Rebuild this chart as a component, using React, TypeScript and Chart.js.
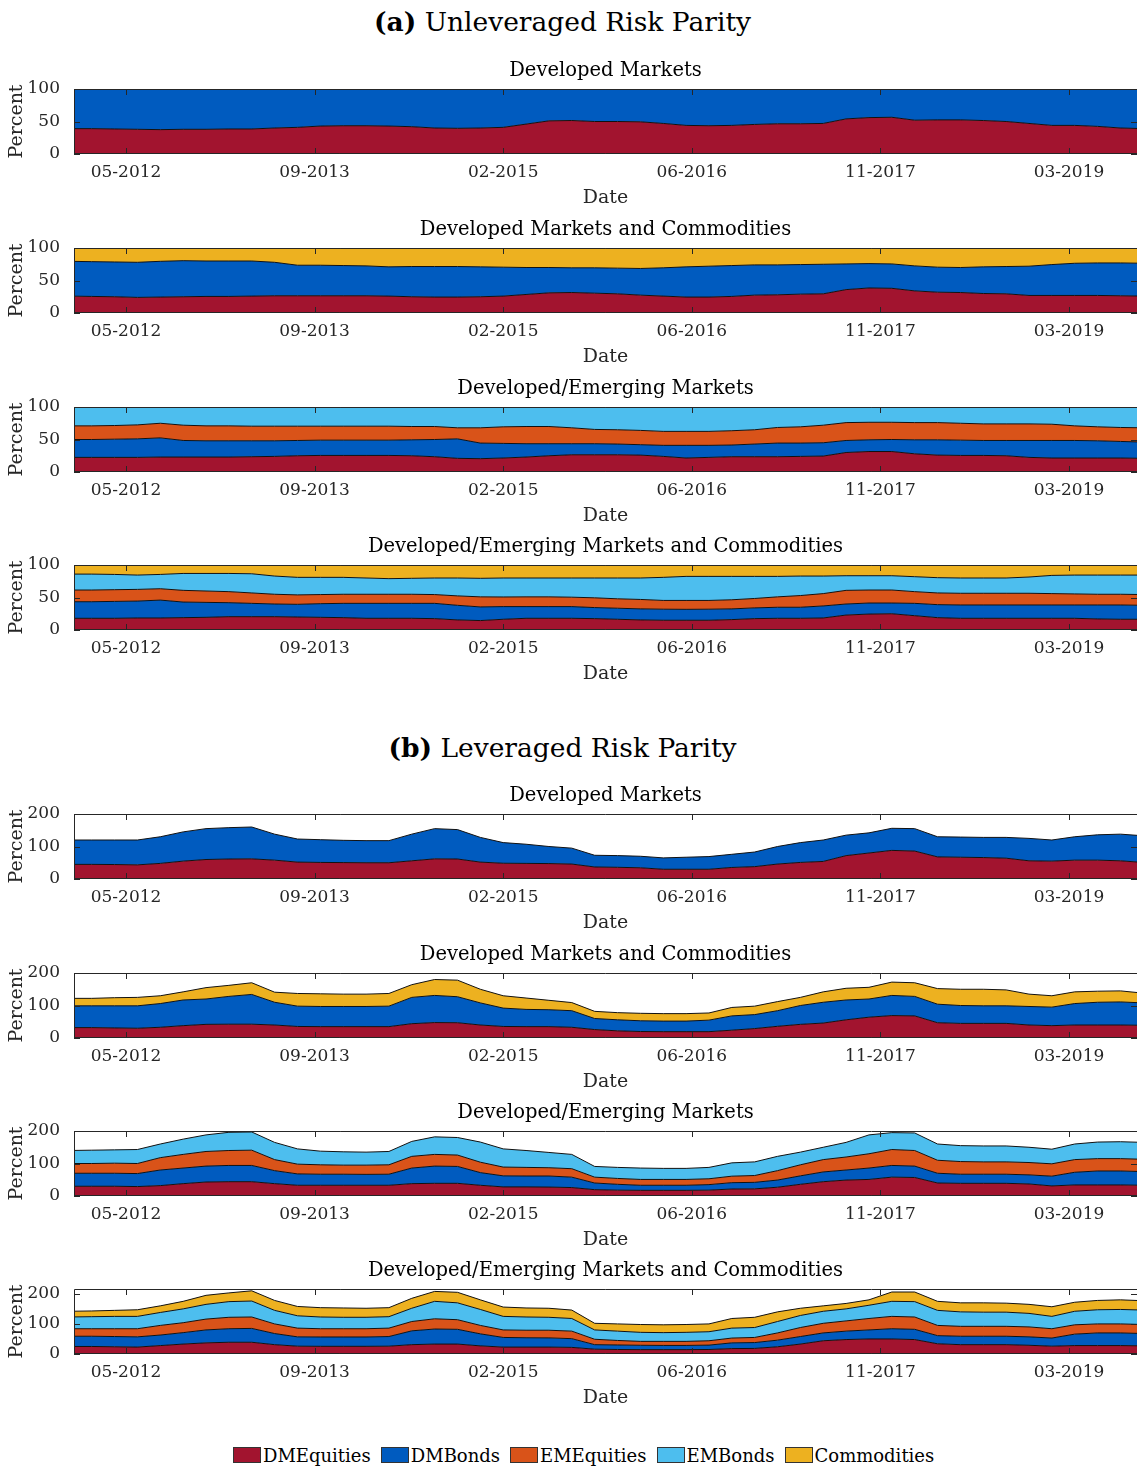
import React, { useEffect, useRef } from 'react';
import { Chart, registerables } from 'chart.js';

Chart.register(...registerables);

const FONT = "'DejaVu Serif', serif";

// Sample dates (MM-YYYY), every two months
const DATES = [
  '12-2011', '02-2012', '04-2012', '06-2012', '08-2012', '10-2012', '12-2012', '02-2013',
  '04-2013', '06-2013', '08-2013', '10-2013', '12-2013', '02-2014', '04-2014', '06-2014',
  '08-2014', '10-2014', '12-2014', '02-2015', '04-2015', '06-2015', '08-2015', '10-2015',
  '12-2015', '02-2016', '04-2016', '06-2016', '08-2016', '10-2016', '12-2016', '02-2017',
  '04-2017', '06-2017', '08-2017', '10-2017', '12-2017', '02-2018', '04-2018', '06-2018',
  '08-2018', '10-2018', '12-2018', '02-2019', '04-2019', '06-2019', '08-2019', '10-2019',
];

const X_TICK_LABELS = ['05-2012', '09-2013', '02-2015', '06-2016', '11-2017', '03-2019'];
const X_TICK_VALUES = [4, 20.5, 37, 53.5, 70, 86.5];
const X_MIN = -0.55;
const X_MAX = 92.45;

const Y_TICKS_UNLEV = [0, 50, 100];
const Y_TICKS_LEV = [0, 100, 200];

const ASSETS = ['DMEquities', 'DMBonds', 'EMEquities', 'EMBonds', 'Commodities'];
const COLORS: Record<string, string> = {
  DMEquities: '#A2142F',
  DMBonds: '#005BBF',
  EMEquities: '#D95319',
  EMBonds: '#4DBEEE',
  Commodities: '#EDB120',
};

// Upper edge of each stacked band (cumulative percent)
const FULL_100 = [
  100, 100, 100, 100, 100, 100, 100, 100, 100, 100, 100, 100, 100, 100, 100, 100,
  100, 100, 100, 100, 100, 100, 100, 100, 100, 100, 100, 100, 100, 100, 100, 100,
  100, 100, 100, 100, 100, 100, 100, 100, 100, 100, 100, 100, 100, 100, 100, 100,
];

// (a) Developed Markets
const A1_DME = [39, 39, 38.5, 38, 37.5, 38, 38, 38.5, 38.5, 40, 41, 43, 43.5, 43.5, 43, 42, 40, 39.5, 40, 41, 46, 51, 51.5, 50, 50, 49.5, 47, 44, 43.5, 44, 45.5, 46.5, 46.5, 47, 54, 56, 56.5, 52, 52.5, 52.5, 51.5, 50, 47, 44, 44, 42.5, 40, 39];

// (a) Developed Markets and Commodities
const A2_DME = [26, 25.5, 25, 24, 24.5, 25, 25.5, 25.5, 26, 26.5, 26.5, 26.5, 26.5, 26.5, 26, 25, 24.5, 24.5, 25, 26, 28.5, 31, 31.5, 30.5, 29.5, 27.5, 26, 24.5, 24.5, 25.5, 27.5, 28, 29, 29.5, 36, 38.5, 38, 34, 32, 31.5, 30, 29.5, 27, 27, 27, 27, 26.5, 26];
const A2_DMB = [79.5, 79, 78.5, 78, 79.5, 80.5, 80, 80, 80, 78, 73.5, 73.5, 73, 72.5, 71, 71.5, 71.5, 71.5, 71, 70.5, 70, 70, 69.5, 69.5, 69, 68.5, 69.5, 71, 72, 73, 74, 74, 74.5, 75, 75.5, 76, 75.5, 72.5, 70.5, 70, 71, 71.5, 72, 74.5, 76.5, 77, 77, 76.5];

// (a) Developed/Emerging Markets
const A3_DME = [22.5, 22.5, 22.5, 22.5, 23, 23, 23, 23, 23.5, 24, 25, 25.5, 25.5, 25.5, 25.5, 25, 23.5, 21, 20.5, 21.5, 23, 25, 26.5, 26.5, 26.5, 26, 24, 21.5, 22.5, 23.5, 23.5, 23.5, 24, 24.5, 30, 31.5, 31.5, 28, 26, 25.5, 25.5, 25, 22.5, 21.5, 21.5, 21.5, 21.5, 21];
const A3_DMB = [50, 50, 50.5, 51, 52.5, 48.5, 48, 48, 48, 48, 48.5, 49, 49, 49, 49, 49.5, 50, 51, 44.5, 44, 43.5, 43.5, 43.5, 43.5, 43, 42, 41, 41, 41, 41.5, 43, 44.5, 44.5, 45, 48.5, 49.5, 50, 49.5, 49.5, 49, 48.5, 48.5, 48.5, 48.5, 48.5, 48, 47, 46];
const A3_EME = [71, 71, 71.5, 72.5, 75, 72, 71, 71, 70.5, 70.5, 70.5, 70.5, 70.5, 70.5, 70.5, 70, 70, 68, 68, 69.5, 70, 70, 68, 65.5, 65, 64, 62.5, 62.5, 62.5, 63.5, 65, 68.5, 69.5, 72, 76, 76.5, 76.5, 76, 76, 75, 74, 74, 74, 73.5, 71, 69.5, 68.5, 68];

// (a) Developed/Emerging Markets and Commodities
const A4_DME = [18, 18, 18, 18.5, 18.5, 19, 19.5, 20.5, 20.5, 20.5, 20, 19.5, 19, 18, 18, 18, 17.5, 15.5, 14.5, 16.5, 18, 18, 18, 17.5, 16.5, 15.5, 15, 15, 15, 16, 17.5, 18, 18, 18.5, 23, 24.5, 25, 22, 19, 18, 18, 18, 18, 18, 18, 17, 16.5, 16.5];
const A4_DMB = [43.5, 43.5, 44, 44.5, 46, 43, 42.5, 42, 41, 40, 39.5, 40.5, 41, 41, 41, 41, 41, 38, 35.5, 36, 36, 36, 36, 34.5, 33.5, 32.5, 32, 31.8, 32, 32.5, 34, 35, 35, 37, 40, 41.5, 41.5, 41, 39, 38.5, 38.5, 38.5, 38.5, 38.5, 38.5, 38.5, 38.5, 38];
const A4_EME = [61.5, 61.5, 62, 62.5, 63.5, 61, 60, 59, 57, 55, 54, 54.5, 55, 55, 55, 55, 54.5, 52.5, 51, 50.8, 51, 51, 50.5, 49.5, 48, 47, 45.5, 45.5, 45.5, 46.5, 48.5, 51, 53, 56, 61, 61.5, 61.5, 59, 57, 56.5, 56.5, 56.5, 56.5, 56, 55.5, 55, 55, 54.5];
const A4_EMB = [86, 86, 85.5, 84.5, 85.5, 87, 87, 87, 86.5, 83, 81, 81, 81, 80, 79, 79.5, 80, 80, 79.5, 80, 80, 80, 80, 80, 80, 80, 81, 82.5, 82.5, 82.5, 82.5, 82.5, 83, 83, 83.5, 83.5, 83.5, 82, 80.5, 80, 80, 80, 81.5, 84, 84.5, 84.5, 84.5, 84.5];

// (b) Developed Markets
const B1_DME = [45, 45, 44.5, 43.5, 48, 55, 60, 61.5, 62, 58, 52, 51, 50.5, 50, 50, 56, 62, 61.5, 52, 48.5, 48, 47.5, 46, 37, 36, 34.5, 30, 30, 30, 35.5, 38, 46, 51, 54, 72, 80, 88, 86, 68, 67, 66, 64, 56, 55, 58, 58, 56, 51];
const B1_DMB = [120, 120, 120, 120, 130, 145, 155, 158, 160, 138, 123, 121, 119, 118, 118, 138, 155, 152, 128, 112, 107, 100, 95, 73, 72, 70, 65, 67, 69, 76, 83, 100, 112, 120, 135, 142, 156, 155, 130, 129, 128, 128, 125, 120, 130, 136, 138, 133];

// (b) Developed Markets and Commodities
const B2_DME = [32, 32, 31, 30, 33, 38, 42, 42.5, 42.5, 40, 35.5, 35, 35, 35, 35, 44, 47.5, 47, 40, 35.5, 35, 35, 33, 26, 22, 20, 19.5, 19.5, 19.5, 24, 29, 36, 42, 46, 56, 64, 69, 68, 47, 45, 45, 45, 40, 38, 40, 40, 40, 39];
const B2_DMB = [99, 99, 99, 99, 106, 117, 120, 128, 134, 110, 98, 97, 97, 97, 98, 125, 131, 127, 108, 92, 88, 87, 84, 60, 56, 53, 52, 52, 55, 68, 72, 84, 100, 110, 117, 120, 131, 128, 104, 100, 99, 99, 97, 95, 106, 110, 111, 108];
const B2_COM = [122, 122, 124, 125, 130, 142, 155, 162, 170, 141, 137, 136, 135, 135, 137, 164, 180, 178, 150, 130, 123, 116, 109, 82, 78, 76, 75, 75, 77, 94, 98, 112, 125, 142, 153, 156, 172, 170, 152, 150, 150, 148, 135, 130, 142, 144, 145, 138];

// (b) Developed/Emerging Markets
const B3_DME = [30, 30, 30, 29, 32, 38, 43, 44, 44, 38, 33, 33, 33, 33, 33, 38, 39, 39, 33, 28, 28, 27.5, 26, 19.5, 18, 17.5, 17.5, 17.5, 18, 21.5, 22, 27, 36, 44, 49, 51, 58, 57, 40, 39, 39, 39, 37, 31, 34, 34, 34, 33];
const B3_DMB = [70, 70, 70, 69, 80, 86, 92, 94, 94, 78, 68, 67, 67, 66.5, 67, 86, 92, 91, 72, 62, 61.5, 61.5, 58, 40, 36, 33, 33, 33, 35, 41, 42, 49, 62, 74, 80, 86, 94, 92, 70, 67, 67, 67, 65, 61, 73, 77, 77, 75];
const B3_EME = [100, 100, 101, 100, 118, 128, 137, 140, 141, 112, 98, 96, 95, 95, 96, 122, 128, 126, 104, 89, 88, 87, 84, 58, 54, 51, 51, 51, 53, 61, 63, 78, 96, 112, 120, 130, 143, 140, 110, 106, 105, 105, 103, 99, 112, 115, 115, 113];
const B3_EMB = [140, 141, 142, 143, 160, 175, 188, 196, 197, 165, 145, 138, 136, 135, 137, 168, 182, 180, 166, 145, 140, 134, 128, 91, 88, 86, 85, 85, 88, 102, 105, 122, 135, 150, 165, 188, 195, 194, 160, 155, 154, 154, 150, 144, 160, 166, 167, 165];

// (b) Developed/Emerging Markets and Commodities
const B4_DME = [25, 25, 24, 23, 28, 33, 37, 39, 39, 31, 26, 25.5, 25.5, 25.5, 26, 31, 33, 33, 27, 23, 23, 23, 22, 16, 15, 14.5, 14.5, 14.5, 15, 18, 18.5, 24, 33, 44, 48, 50, 50, 48, 34, 31, 31, 31, 29, 26, 28, 28, 28, 27];
const B4_DMB = [59, 59, 58, 57, 63, 71, 80, 84, 85, 68, 57, 56.5, 56.5, 56.5, 58, 77, 83, 82, 67, 55, 54, 53.5, 51, 31, 30, 29, 28.5, 28.5, 29.5, 37, 38, 46, 58, 70, 76, 80, 84, 82, 61, 59, 59, 59, 57, 53, 66, 70, 70, 68];
const B4_EME = [84, 84, 84, 84, 95, 104, 116, 122, 123, 100, 86, 84, 84, 84, 86, 108, 117, 114, 95, 80, 79, 79, 76, 49, 45, 42, 42, 42, 44, 53, 55, 70, 88, 102, 110, 118, 125, 123, 95, 92, 92, 92, 90, 84, 97, 100, 100, 98];
const B4_EMB = [123, 124, 125, 125, 138, 150, 165, 174, 176, 145, 127, 123, 122, 122, 124, 152, 175, 170, 148, 125, 123, 122, 118, 80, 76, 72, 71, 72, 74, 86, 88, 108, 128, 142, 150, 162, 175, 174, 145, 140, 139, 139, 135, 125, 142, 147, 148, 146];
const B4_COM = [142, 143, 145, 147, 160, 175, 195, 203, 210, 178, 158, 154, 153, 152, 154, 185, 208, 205, 180, 156, 153, 152, 146, 102, 100, 98, 97, 98, 100, 118, 122, 140, 152, 160, 168, 180, 206, 206, 175, 170, 170, 169, 165, 157, 172, 178, 180, 177];

type Layer = [string, number[]];
interface PanelCfg {
  title: string;
  top: number;
  yMax: number;
  yTicks: number[];
  layers: Layer[];
}

const PANELS: PanelCfg[] = [
  { title: 'Developed Markets', top: 89, yMax: 100, yTicks: Y_TICKS_UNLEV,
    layers: [['DMEquities', A1_DME], ['DMBonds', FULL_100]] },
  { title: 'Developed Markets and Commodities', top: 248, yMax: 100, yTicks: Y_TICKS_UNLEV,
    layers: [['DMEquities', A2_DME], ['DMBonds', A2_DMB], ['Commodities', FULL_100]] },
  { title: 'Developed/Emerging Markets', top: 407, yMax: 100, yTicks: Y_TICKS_UNLEV,
    layers: [['DMEquities', A3_DME], ['DMBonds', A3_DMB], ['EMEquities', A3_EME], ['EMBonds', FULL_100]] },
  { title: 'Developed/Emerging Markets and Commodities', top: 565, yMax: 100, yTicks: Y_TICKS_UNLEV,
    layers: [['DMEquities', A4_DME], ['DMBonds', A4_DMB], ['EMEquities', A4_EME], ['EMBonds', A4_EMB], ['Commodities', FULL_100]] },
  { title: 'Developed Markets', top: 814, yMax: 200, yTicks: Y_TICKS_LEV,
    layers: [['DMEquities', B1_DME], ['DMBonds', B1_DMB]] },
  { title: 'Developed Markets and Commodities', top: 973, yMax: 200, yTicks: Y_TICKS_LEV,
    layers: [['DMEquities', B2_DME], ['DMBonds', B2_DMB], ['Commodities', B2_COM]] },
  { title: 'Developed/Emerging Markets', top: 1131, yMax: 200, yTicks: Y_TICKS_LEV,
    layers: [['DMEquities', B3_DME], ['DMBonds', B3_DMB], ['EMEquities', B3_EME], ['EMBonds', B3_EMB]] },
  { title: 'Developed/Emerging Markets and Commodities', top: 1289, yMax: 216, yTicks: Y_TICKS_LEV,
    layers: [['DMEquities', B4_DME], ['DMBonds', B4_DMB], ['EMEquities', B4_EME], ['EMBonds', B4_EMB], ['Commodities', B4_COM]] },
];

const PLOT_H = 65;
const TITLE_SPACE = 30;
const XAXIS_H = 55;
const CANVAS_H = TITLE_SPACE + PLOT_H + XAXIS_H;
const WIDTH = 1137;

function monthIndex(s: string): number {
  const [m, y] = s.split('-').map(Number);
  return (y - 2012) * 12 + (m - 1);
}

const framePlugin = {
  id: 'matlabFrame',
  afterDatasetsDraw(chart: any) {
    const { ctx, chartArea, scales } = chart;
    const { left, right, top, bottom } = chartArea;
    ctx.save();
    ctx.strokeStyle = '#262626';
    ctx.lineWidth = 1;
    ctx.beginPath();
    ctx.moveTo(left + 0.5, bottom);
    ctx.lineTo(left + 0.5, top + 0.5);
    ctx.lineTo(right, top + 0.5);
    ctx.moveTo(left, bottom - 0.5);
    ctx.lineTo(right, bottom - 0.5);
    scales.x.ticks.forEach((t: any) => {
      const px = Math.round(scales.x.getPixelForValue(t.value)) + 0.5;
      ctx.moveTo(px, bottom);
      ctx.lineTo(px, bottom - 6);
      ctx.moveTo(px, top);
      ctx.lineTo(px, top + 6);
    });
    scales.y.ticks.forEach((t: any) => {
      const py = Math.round(scales.y.getPixelForValue(t.value)) + 0.5;
      ctx.moveTo(left, py);
      ctx.lineTo(left + 6, py);
      ctx.moveTo(right, py);
      ctx.lineTo(right - 6, py);
    });
    ctx.stroke();
    ctx.restore();
  },
};

// Panel title centred over the plot area (as in the MATLAB figure)
const panelTitlePlugin = {
  id: 'panelTitle',
  afterDraw(chart: any, _args: any, opts: any) {
    const { ctx, chartArea } = chart;
    ctx.save();
    ctx.fillStyle = '#000000';
    ctx.font = `19.5px ${FONT}`;
    ctx.textAlign = 'center';
    ctx.textBaseline = 'middle';
    ctx.fillText(opts.text, (chartArea.left + chartArea.right) / 2, chartArea.top - 18.5);
    ctx.restore();
  },
};

function Panel({ cfg }: { cfg: PanelCfg }) {
  const ref = useRef<HTMLCanvasElement | null>(null);
  useEffect(() => {
    if (!ref.current) return;
    const xs = DATES.map(monthIndex);
    const datasets = cfg.layers.map(([name, vals], i) => ({
      label: name,
      data: vals.map((v, k) => ({ x: xs[k], y: v })),
      backgroundColor: COLORS[name],
      borderColor: '#111111',
      borderWidth: 1,
      pointRadius: 0,
      pointHoverRadius: 0,
      tension: 0,
      fill: i === 0 ? 'origin' : '-1',
    }));
    const tickFont = { family: FONT, size: 17 };
    const chart = new Chart(ref.current, {
      type: 'line',
      data: { datasets },
      options: {
        animation: false,
        responsive: false,
        devicePixelRatio: 1,
        layout: { padding: { top: TITLE_SPACE, left: 0, right: 0, bottom: 0 } },
        plugins: {
          legend: { display: false },
          tooltip: { enabled: false },
          title: { display: false },
          panelTitle: { text: cfg.title },
        },
        scales: {
          x: {
            type: 'linear',
            min: X_MIN,
            max: X_MAX,
            grid: { display: false },
            border: { display: false },
            afterBuildTicks: (s: any) => {
              s.ticks = X_TICK_VALUES.map((v) => ({ value: v }));
            },
            afterFit: (s: any) => {
              s.height = XAXIS_H;
            },
            ticks: {
              autoSkip: false,
              maxRotation: 0,
              minRotation: 0,
              padding: 0,
              color: '#262626',
              font: tickFont,
              callback: (v: any) => X_TICK_LABELS[X_TICK_VALUES.indexOf(Number(v))] ?? '',
            },
            title: {
              display: true,
              text: 'Date',
              color: '#262626',
              font: { family: FONT, size: 19 },
              padding: 0,
            },
          },
          y: {
            type: 'linear',
            min: 0,
            max: cfg.yMax,
            grid: { display: false },
            border: { display: false },
            afterBuildTicks: (s: any) => {
              s.ticks = cfg.yTicks.map((v) => ({ value: v }));
            },
            afterFit: (s: any) => {
              s.width = 74;
            },
            ticks: {
              padding: 6,
              color: '#262626',
              font: tickFont,
            },
            title: {
              display: true,
              text: 'Percent',
              color: '#262626',
              font: { family: FONT, size: 19 },
              padding: { top: 6, bottom: 0 },
            },
          },
        },
      } as any,
      plugins: [framePlugin, panelTitlePlugin],
    });
    return () => chart.destroy();
  }, [cfg]);
  return (
    <canvas
      ref={ref}
      width={WIDTH}
      height={CANVAS_H}
      style={{ position: 'absolute', left: 0, top: cfg.top - TITLE_SPACE, width: WIDTH, height: CANVAS_H }}
    />
  );
}

function SectionTitle({ label, text, centerY }: { label: string; text: string; centerY: number }) {
  return (
    <div
      style={{
        position: 'absolute',
        left: 0,
        width: 1125,
        top: centerY - 16,
        height: 32,
        lineHeight: '32px',
        textAlign: 'center',
        fontFamily: FONT,
        fontSize: 26.5,
        color: '#000',
        whiteSpace: 'nowrap',
      }}
    >
      <b>{label}</b> {text}
    </div>
  );
}

function Legend() {
  return (
    <div
      style={{
        position: 'absolute',
        left: 233,
        top: 1444,
        height: 22,
        display: 'flex',
        alignItems: 'center',
        fontFamily: FONT,
        fontSize: 18,
        color: '#000',
        whiteSpace: 'nowrap',
      }}
    >
      {ASSETS.map((a) => (
        <div key={a} style={{ display: 'flex', alignItems: 'center', marginRight: 10 }}>
          <span
            style={{
              display: 'inline-block',
              width: 28,
              height: 16,
              background: COLORS[a],
              border: '1px solid #333',
              boxSizing: 'border-box',
              marginRight: 2,
            }}
          />
          <span>{a}</span>
        </div>
      ))}
    </div>
  );
}

export default function App() {
  return (
    <div style={{ position: 'absolute', left: 0, top: 0, width: WIDTH, height: 1466, background: '#fff', overflow: 'hidden' }}>
      <SectionTitle label="(a)" text="Unleveraged Risk Parity" centerY={22} />
      <SectionTitle label="(b)" text="Leveraged Risk Parity" centerY={748} />
      {PANELS.map((p, i) => (
        <Panel key={i} cfg={p} />
      ))}
      <Legend />
    </div>
  );
}
